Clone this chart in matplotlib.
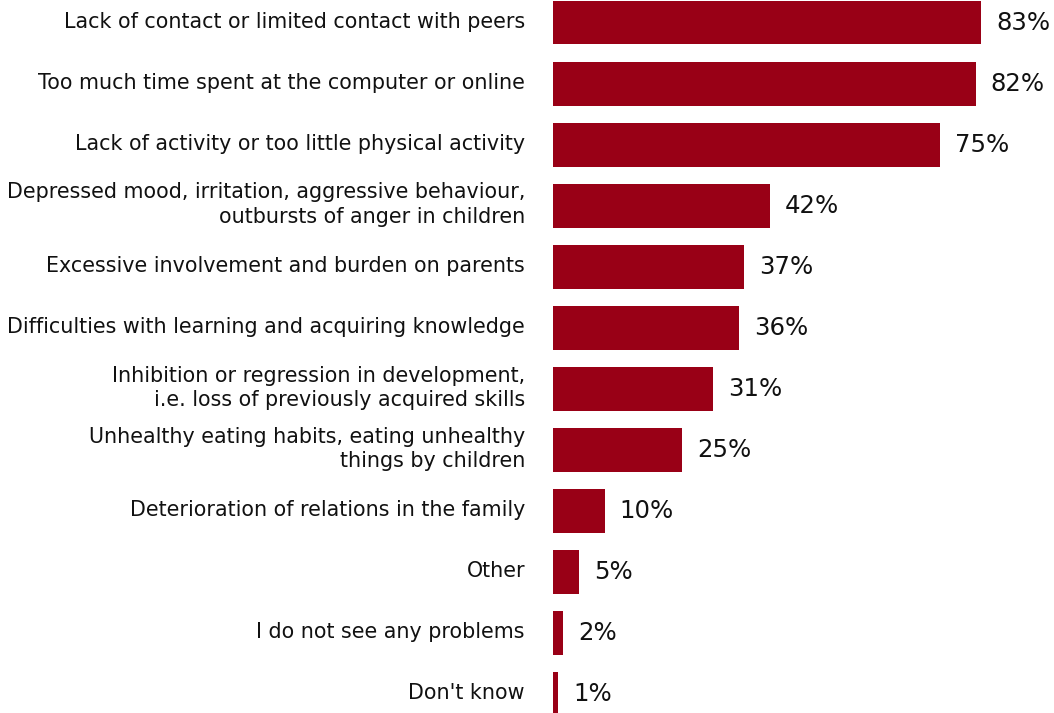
import matplotlib
matplotlib.use("Agg")
import matplotlib.pyplot as plt

categories = [
    "Lack of contact or limited contact with peers",
    "Too much time spent at the computer or online",
    "Lack of activity or too little physical activity",
    "Depressed mood, irritation, aggressive behaviour,\noutbursts of anger in children",
    "Excessive involvement and burden on parents",
    "Difficulties with learning and acquiring knowledge",
    "Inhibition or regression in development,\ni.e. loss of previously acquired skills",
    "Unhealthy eating habits, eating unhealthy\nthings by children",
    "Deterioration of relations in the family",
    "Other",
    "I do not see any problems",
    "Don't know",
]
values = [83, 82, 75, 42, 37, 36, 31, 25, 10, 5, 2, 1]

plt.rcParams['font.family'] = ['DejaVu Sans']
W, H = 1054, 713
fig = plt.figure(figsize=(W / 100, H / 100), dpi=100)
x0 = 553
ax = fig.add_axes([x0 / W, 0, 1 - x0 / W, 1])
pxper = 5.157
spacing = 61.05
ax.set_xlim(0, (W - x0) / pxper)
ax.set_ylim((H - 22.5) / spacing, -22.5 / spacing)
ypos = list(range(len(values)))
ax.barh(ypos, values, height=0.72, color="#990016")
ax.axis("off")
for y, v, c in zip(ypos, values, categories):
    ax.annotate(f"{v}%", (v, y), xytext=(15, 0), textcoords="offset pixels",
                ha="left", va="center", fontsize=17.6, color="#111111")
    ax.annotate(c, (0, y), xytext=(-28, 1), textcoords="offset pixels",
                ha="right", va="center", fontsize=14.85, color="#111111",
                multialignment="right", linespacing=1.27, annotation_clip=False)
fig.savefig("out.png", dpi=100)
